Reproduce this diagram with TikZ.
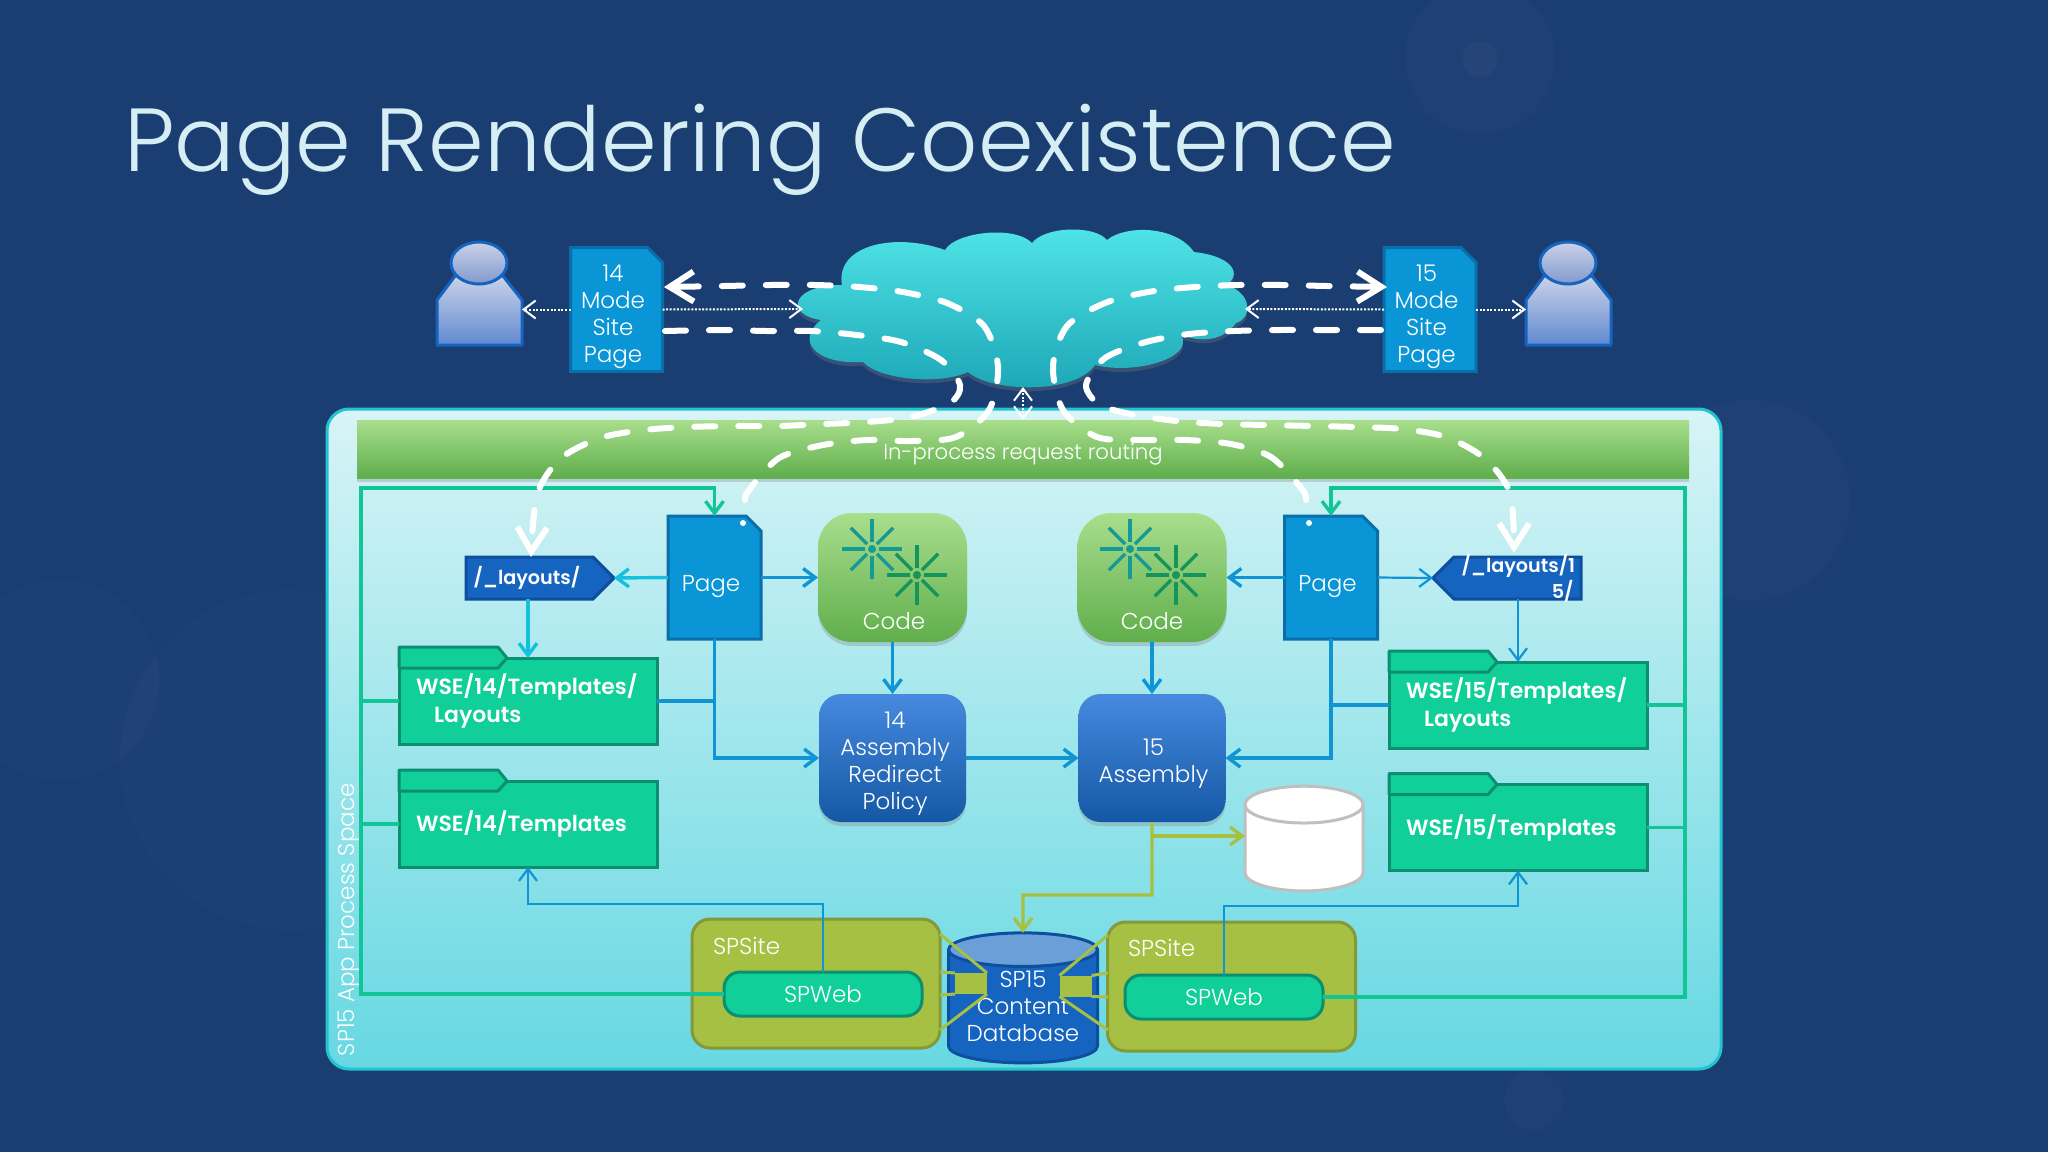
\documentclass[tikz,border=0pt]{standalone}
\usepackage{fontspec}
\setmainfont{Poppins}[UprightFont=* Light,BoldFont=* SemiBold]
\usetikzlibrary{shapes.geometric, shapes.misc, shapes.symbols, arrows.meta, shadows}
\definecolor{navy}{HTML}{1A3D72}
\definecolor{titlecolor}{HTML}{D5EEF4}
\definecolor{panellight}{HTML}{D8F4F6}
\definecolor{paneldark}{HTML}{66D8E2}
\definecolor{panelline}{HTML}{22C4D0}
\definecolor{cloudlight}{HTML}{50E5E8}
\definecolor{clouddark}{HTML}{1BA5B5}
\definecolor{linkteal}{HTML}{159A96}
\definecolor{linkdeep}{HTML}{15945E}
\definecolor{lidblue}{HTML}{6A9FD8}
\definecolor{pageblue}{HTML}{0A96D6}
\definecolor{pageline}{HTML}{0A6FA8}
\definecolor{folderfill}{HTML}{10CF98}
\definecolor{folderline}{HTML}{0B8F6F}
\definecolor{olive}{HTML}{A5C043}
\definecolor{oliveline}{HTML}{84993A}
\definecolor{linkblue}{HTML}{0F94D4}
\definecolor{linkcyan}{HTML}{14C0DC}
\definecolor{linkgreen}{HTML}{12C596}
\definecolor{linkolive}{HTML}{A8C040}
\definecolor{dbblue}{HTML}{1565C0}
\definecolor{dbline}{HTML}{0D4F9E}
\definecolor{userlight}{HTML}{CBD2E8}
\definecolor{usermid}{HTML}{8199CC}
\definecolor{userdark}{HTML}{5F8AD0}
\definecolor{codelight}{HTML}{A8DE8C}
\definecolor{codedark}{HTML}{60AE4C}
\definecolor{asmlight}{HTML}{4689DE}
\definecolor{asmdark}{HTML}{1458A5}
\tikzstyle{base} = [inner sep=0pt, outer sep=0pt, align=center, text=white,
font=\fontsize{11.5}{13.5}\selectfont]
\tikzstyle{softshadow} = [drop shadow={shadow xshift=0pt, shadow yshift=-2pt, opacity=.3}]
\tikzstyle{pagebox} = [base,
chamfered rectangle,
chamfered rectangle corners=north east,
chamfered rectangle xsep=7.5pt,
chamfered rectangle ysep=7.5pt,
fill=pageblue, draw=pageline, line width=1.5pt]
\tikzstyle{userbody} = [top color=userlight, bottom color=userdark, draw=dbblue, line width=1.5pt, line join=round]
\tikzstyle{userspot} = [base, rectangle, minimum width=42.5pt, minimum height=33.5pt]
\tikzstyle{userhead} = [base,
ellipse,
minimum width=28pt, minimum height=21pt,
top color=userlight, bottom color=usermid, draw=dbblue, line width=1.5pt]
\tikzstyle{codebox} = [base,
rectangle,
rounded corners=17pt,
minimum width=74.5pt, minimum height=64.5pt,
top color=codelight, bottom color=codedark, softshadow]
\tikzstyle{asmbox} = [base,
rectangle,
rounded corners=11pt,
minimum width=73.5pt, minimum height=64pt,
top color=asmlight, bottom color=asmdark, softshadow]
\tikzstyle{folder} = [base,
rectangle,
minimum width=129pt, minimum height=43pt,
fill=folderfill, draw=folderline, line width=1.5pt,
font=\fontsize{11}{14.3}\selectfont\bfseries,
align=left, text width=112pt]
\tikzstyle{foldertab} = [fill=folderfill, draw=folderline, line width=1.5pt, line join=round]
\tikzstyle{pathbox} = [base,
signal,
signal pointer angle=90,
minimum width=74pt, minimum height=21pt,
fill=dbblue, draw=dbline, line width=1.5pt,
font=\fontsize{9.6}{13}\selectfont\bfseries]
\tikzstyle{sitebox} = [base,
rectangle,
rounded corners=9pt,
minimum width=124pt, minimum height=64.5pt,
fill=olive, draw=oliveline, line width=1.5pt]
\tikzstyle{webbox} = [base,
rectangle,
rounded corners=8pt,
minimum width=99pt, minimum height=22pt,
fill=folderfill, draw=folderline, line width=1.5pt]
\tikzstyle{sitelabel} = [base, anchor=west]
\tikzstyle{linkbox} = [base, rectangle, minimum width=16pt, minimum height=10.5pt, fill=olive]
\tikzstyle{linkline} = [line width=1.5pt, olive]
\tikzstyle{dbshape} = [base, cylinder, shape border rotate=90, line width=1.5pt]
\tikzstyle{bluearrow} = [line width=1.7pt,color=linkblue,-{Straight Barb[length=6pt,width=9pt]}]
\tikzstyle{bluethin} = [line width=1.1pt,color=linkblue,-{Straight Barb[length=6pt,width=9pt]}]
\tikzstyle{bluejoin} = [line width=1.7pt,color=linkblue]
\tikzstyle{cyanarrow} = [line width=1.7pt,color=linkcyan,-{Straight Barb[length=6pt,width=9pt]}]
\tikzstyle{framearrow} = [line width=1.7pt,color=linkgreen,-{Straight Barb[length=6pt,width=9pt]}]
\tikzstyle{frameline} = [line width=1.7pt,color=linkgreen]
\tikzstyle{olivearrow} = [line width=1.7pt,color=linkolive,-{Straight Barb[length=6pt,width=9pt]}]
\tikzstyle{dotarrow} = [line width=1pt,white,dash pattern=on 1pt off .8pt,-{Straight Barb[length=6pt,width=9pt]}]
\tikzstyle{route} = [line width=3pt,white,line cap=round,dash pattern=on 10.5pt off 11.5pt]
\tikzstyle{routearrow} = [route,-{Straight Barb[length=12pt,width=15pt]}]
\newcommand{\lowered}[3][0pt]{\smash{\raisebox{#2}{\makebox[24pt]{\hspace{#1}#3}}}}
\newcommand{\stacked}[1]{\makebox[0pt]{\parbox[c]{70pt}{\centering #1}}}
\newcommand{\dbfiller}{\phantom{\rule{40pt}{24pt}}}
\newcommand{\sparkle}[3]{%
\fill [#3] (#1,#2) circle (4);
\foreach \a in {0,45,...,315}
    \draw [#3, line width=1.7pt] (#1,#2) ++(\a:7) -- ++(\a:23);
}
\newcommand{\tabon}[1]{%
\draw [foldertab] (#1.north west) -- ++(0,-11) -- ++(99,0) -- ++(9,11) -- ++(-9,10) -- ++(-99,0) -- cycle;
}
\newcommand{\userat}[1]{%
\draw [userbody] (#1-42,345) -- (#1-42,300) -- (#1-24,276) -- (#1+24,276) -- (#1+43,300) -- (#1+43,345) -- cycle;
}
\begin{document}
\begin{tikzpicture}[x=0.5pt, y=-0.5pt]
    \fill [navy] (0,0) rectangle (2048,1152);
    \useasboundingbox (0,0) rectangle (2048,1152);
    \fill [white, opacity=.02] (1480,59) circle (75);
    \fill [white, opacity=.03] (1480,59) circle (18);
    \fill [white, opacity=.015] (59,680) circle (100);
    \fill [white, opacity=.015] (290,760) circle (170);
    \fill [white, opacity=.02] (1750,500) circle (100);
    \fill [white, opacity=.02] (1534,1100) circle (30);

    \node (title) [base, anchor=west, text=titlecolor, font=\fontsize{44.8}{50}\selectfont] at (124,150) {Page Rendering Coexistence};

    \node (panel) [base, rectangle, rounded corners=11pt, minimum width=697pt, minimum height=330pt,
        top color=panellight, bottom color=paneldark, draw=panelline, line width=1.5pt] at (1024,739) {};
    \node (bar) [base, rectangle, minimum width=666pt, minimum height=29pt, font=\fontsize{10.6}{13}\selectfont,
        top color=codelight, bottom color=codedark, softshadow] at (1023,449) {\lowered{-5pt}{In-process request routing}};
    \node (space) [base, anchor=west, rotate=90, text=white] at (349,1056) {SP15 App Process Space};

    \userat{479}
    \userat{1568}
    \node (user14) [userspot] at (479.5,311.5) {};
    \node (user15) [userspot] at (1568.5,311.5) {};
    \node (head14) [userhead] at (479,263) {};
    \node (head15) [userhead] at (1568,263) {};
    \node (mode14) [pagebox, minimum width=46pt, minimum height=62pt] at (616.5,309.5) {\lowered[-3.5pt]{-6.5pt}{\stacked{14\\Mode\\Site\\Page}}};
    \node (mode15) [pagebox, minimum width=46pt, minimum height=62pt] at (1430,309.5) {\lowered[-3.5pt]{-6.5pt}{\stacked{15\\Mode\\Site\\Page}}};

    \node (page14) [pagebox, minimum width=46.5pt, minimum height=61.5pt] at (714.5,577.5) {\lowered[-3.5pt]{-7pt}{Page}};
    \node (page15) [pagebox, minimum width=46.5pt, minimum height=61.5pt] at (1331,577.5) {\lowered[-3.5pt]{-7pt}{Page}};
    \fill [white] (743,523) circle (3);
    \fill [white] (1309,523) circle (3);

    \node (code14) [codebox] at (892.5,577.5) {\lowered[1.5pt]{-26pt}{Code}};
    \node (code15) [codebox] at (1152,577.5) {\lowered{-26pt}{Code}};
    \sparkle{872}{549}{linkteal}
    \sparkle{917}{575}{linkdeep}
    \sparkle{1130}{549}{linkteal}
    \sparkle{1176}{575}{linkdeep}

    \node (asm14) [asmbox] at (892.5,758) {\lowered[2.6pt]{-5.8pt}{\stacked{14\\Assembly\\Redirect\\Policy}}};
    \node (asm15) [asmbox] at (1152,758) {\lowered[1.5pt]{-5.8pt}{\stacked{15\\Assembly}}};

    \node (layouts14) [pathbox, signal to=east, anchor=east, align=left, text width=56pt] at (614,578) {/\_layouts/};
    \node (layouts15) [pathbox, signal to=west, anchor=west, align=left, text width=56pt] at (1433,578) {\smash{\raisebox{-2.6pt}{\parbox[c]{56pt}{/\_layouts/1\\\mbox{}\hfill 5/}}}};

    \node (folder14l) [folder] at (528,701) {WSE/14/Templates/\\\hspace*{9pt}Layouts};
    \node (folder14t) [folder] at (528,824) {WSE/14/Templates};
    \node (folder15l) [folder] at (1518,705) {WSE/15/Templates/\\\hspace*{9pt}Layouts};
    \node (folder15t) [folder] at (1518,827.5) {WSE/15/Templates};
    \tabon{folder14l}
    \tabon{folder14t}
    \tabon{folder15l}
    \tabon{folder15t}

    \node (plaindb) [dbshape, shape aspect=.46, minimum width=59pt, minimum height=51.5pt,
        fill=white, draw=gray!50] at (1304,848.5) {\dbfiller};
    \node (contentdb) [dbshape, shape aspect=.42, minimum width=74.5pt, minimum height=65pt,
        cylinder uses custom fill, cylinder body fill=dbblue, cylinder end fill=lidblue, draw=dbline] at (1023,1007) {\dbfiller};
    \node (dbtext) [base] at (1023,1006) {SP15\\Content\\Database};

    \node (site14) [sitebox] at (816,983.5) {};
    \node (site15) [sitebox] at (1231.5,986.5) {};
    \node (sitetext14) [sitelabel] at (713,946) {SPSite};
    \node (sitetext15) [sitelabel] at (1128,948) {SPSite};
    \node (web14) [webbox] at (823,994) {SPWeb};
    \node (web15) [webbox] at (1224,997) {SPWeb};

    \node (link14) [linkbox] at (971,983.5) {};
    \node (link15) [linkbox] at (1075.5,986) {};
    \draw [linkline] (940,934) -- (link14.north east);
    \draw [linkline] (940,972) -- (link14.north west);
    \draw [linkline] (940,995) -- (link14.south west);
    \draw [linkline] (940,1030) -- (link14.south east);
    \draw [linkline] (1108,935) -- (link15.north west);
    \draw [linkline] (1108,973) -- (link15.north east);
    \draw [linkline] (1108,997) -- (link15.south east);
    \draw [linkline] (1108,1030) -- (link15.south west);

    \coordinate (frame14) at (361,488);
    \coordinate (frame15) at (1685,488);
    \coordinate (turn14) at (528,904);
    \coordinate (turn15) at (1518,906);
    \coordinate (turndb) at (1023,895);
    \coordinate (plainin) at (1245,836);

    \draw [framearrow] (web14.west) -| (frame14) -| (page14.north);
    \draw [framearrow] (web15.east) -| (frame15) -| (page15.north);
    \draw [frameline] (folder14l.west) -- (folder14l.west -| frame14);
    \draw [frameline] (folder14t.west) -- (folder14t.west -| frame14);
    \draw [frameline] (folder15l.east) -- (folder15l.east -| frame15);
    \draw [frameline] (folder15t.east) -- (folder15t.east -| frame15);

    \draw [cyanarrow] (page14.west) -- (layouts14.east);
    \draw [cyanarrow] (folder14l.north |- layouts14.south) -- (folder14l.north);
    \draw [bluearrow] (page14.east) -- (code14.west);
    \draw [bluearrow] (code14.south) -- (asm14.north);
    \draw [bluearrow] (page14.south) |- (asm14.west);
    \draw [bluejoin] (folder14l.east) -- (folder14l.east -| page14.south);
    \draw [bluearrow] (asm14.east) -- (asm15.west);
    \draw [bluearrow] (page15.west) -- (code15.east);
    \draw [bluearrow] (code15.south) -- (asm15.north);
    \draw [bluearrow] (page15.south) |- (asm15.east);
    \draw [bluejoin] (folder15l.west) -- (folder15l.west -| page15.south);
    \draw [bluethin] (page15.east) -- (layouts15.west);
    \draw [bluethin] (folder15l.north |- layouts15.south) -- (folder15l.north);
    \draw [bluethin] (web14.north) |- (turn14) -- (folder14t.south);
    \draw [bluethin] (web15.north) |- (turn15) -- (folder15t.south);
    \draw [olivearrow] (asm15.south) |- (turndb) -- (contentdb.north);
    \draw [olivearrow] (asm15.south |- plainin) -- (plainin);

    \path [top color=cloudlight, bottom color=clouddark, softshadow]
        (821,320) .. controls (785,315) and (790,285) .. (842,285)
        .. controls (835,245) and (895,232) .. (945,250)
        .. controls (955,232) and (1015,225) .. (1032,243)
        .. controls (1045,226) and (1095,225) .. (1107,240)
        .. controls (1125,225) and (1175,225) .. (1194,252)
        .. controls (1225,255) and (1245,270) .. (1227,285)
        .. controls (1255,295) and (1250,320) .. (1236,323)
        .. controls (1220,345) and (1195,340) .. (1181,335)
        .. controls (1195,358) and (1135,375) .. (1095,365)
        .. controls (1075,395) and (990,392) .. (968,372)
        .. controls (940,385) and (880,380) .. (863,362)
        .. controls (815,365) and (795,340) .. (821,320) -- cycle;
    \coordinate (cloudw) at (803,309);
    \coordinate (cloude) at (1245,309);
    \coordinate (clouds) at (1023,387);

    \draw [dotarrow] (mode14.west) -- (user14.east |- mode14.west);
    \draw [dotarrow] (mode14.east) -- (cloudw);
    \draw [dotarrow] (mode15.west) -- (cloude);
    \draw [dotarrow] (mode15.east) -- (user15.west |- mode15.east);
    \draw [dotarrow, {Straight Barb[length=6pt,width=9pt]}-{Straight Barb[length=6pt,width=9pt]}] (clouds) -- (bar.north -| clouds);

    \coordinate (inA) at (664,287);
    \coordinate (inB) at (745,500);
    \coordinate (inC) at (665,331);
    \coordinate (inD) at (531,557);
    \coordinate (inE) at (1387,287);
    \coordinate (inF) at (1306,500);
    \coordinate (inG) at (1381,330);
    \coordinate (inH) at (1514,553);

    \draw [routearrow] plot [smooth] coordinates {(inB) (749,490) (779,458) (823,445) (867,440) (911,441) (956,437) (989,410) (998,367) (984,326) (947,303) (903,292) (859,287) (815,285) (770,285) (724,286) (inA)};
    \draw [routearrow] plot [smooth] coordinates {(inC) (722,330) (767,331) (812,331) (857,335) (901,342) (941,360) (960,385) (950,403) (911,417) (867,422) (823,424) (779,426) (734,426) (688,427) (644,430) (600,438) (560,459) (537,495) (inD)};
    \draw [routearrow] plot [smooth] coordinates {(inF) (1302,489) (1271,457) (1231,444) (1185,440) (1141,440) (1097,437) (1063,410) (1053,366) (1067,326) (1105,303) (1148,292) (1194,287) (1238,285) (1282,285) (1327,286) (inE)};
    \draw [routearrow] plot [smooth] coordinates {(inG) (1324,330) (1280,330) (1234,331) (1189,334) (1146,342) (1105,358) (1086,385) (1100,405) (1135,415) (1177,421) (1223,424) (1268,425) (1314,426) (1358,427) (1402,429) (1446,437) (1484,458) (1510,493) (inH)};
\end{tikzpicture}
\end{document}
